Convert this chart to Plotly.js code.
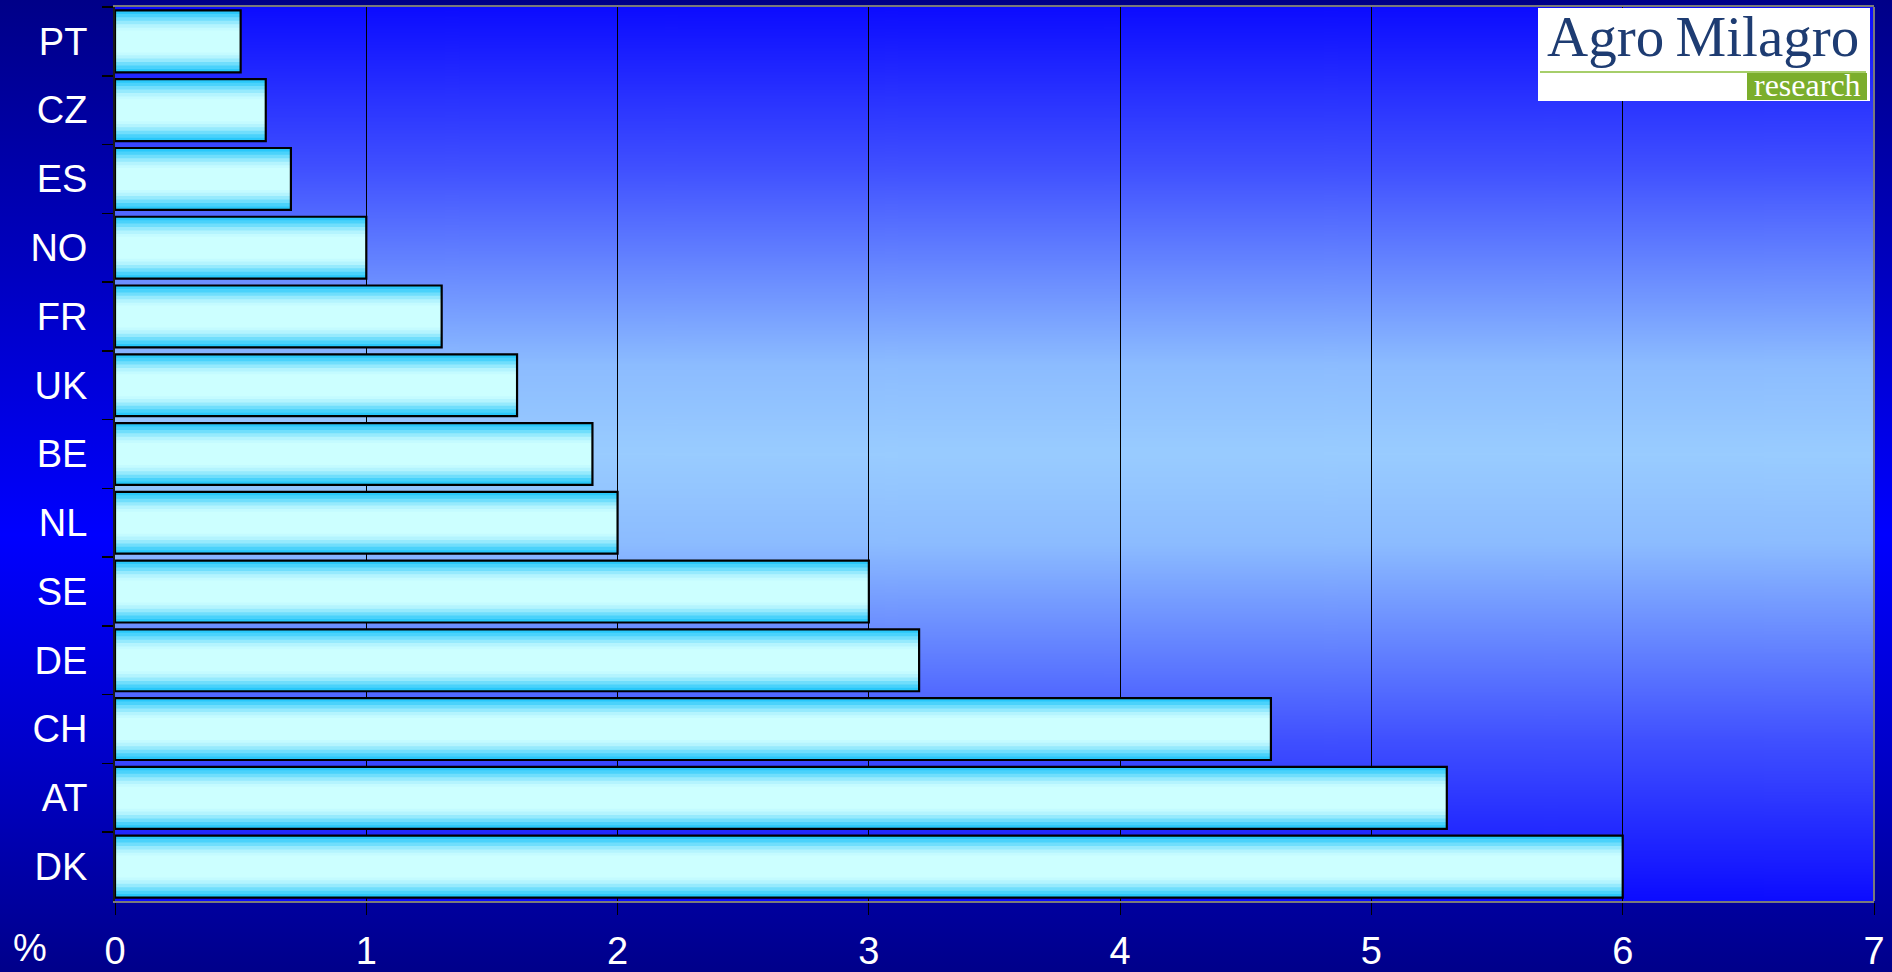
<!DOCTYPE html>
<html>
<head>
<meta charset="utf-8">
<script src="https://cdn.plot.ly/plotly-3.0.1.min.js"></script>
<style>
  html, body { margin: 0; padding: 0; }
  #chart {
    width: 1892px; height: 972px;
    background: linear-gradient(to bottom, #000088 0%, #0000C0 28%, #0000FF 55%, #0000C8 78%, #00008A 100%);
  }
</style>
</head>
<body>
<div id="chart"></div>
<script>
// ---- data ----
const countries = ["PT", "CZ", "ES", "NO", "FR", "UK", "BE", "NL", "SE", "DE", "CH", "AT", "DK"];
const shares = [0.5, 0.6, 0.7, 1.0, 1.3, 1.6, 1.9, 2.0, 3.0, 3.2, 4.6, 5.3, 6.0];
const xTickValues = [0, 1, 2, 3, 4, 5, 6, 7];
const xTickLabels = ["0", "1", "2", "3", "4", "5", "6", "7"];
const unitLabel = "%";
const logoTitle = "Agro\u2009Milagro";
const logoSub = "research";

// ---- style helpers ----
const W = 1892, H = 972;
const M = {l: 115, r: 18, t: 7, b: 71};
const pw = W - M.l - M.r, ph = H - M.t - M.b;
const px = x => (x - M.l) / pw;
const py = y => 1 - (y - M.t) / ph;

function gradientPNG(stops) {
  const c = document.createElement("canvas");
  c.width = 8; c.height = 600;
  const g = c.getContext("2d");
  const lg = g.createLinearGradient(0, 0, 0, 600);
  stops.forEach(s => lg.addColorStop(s[0], s[1]));
  g.fillStyle = lg; g.fillRect(0, 0, 8, 600);
  return c.toDataURL("image/png");
}
const plotBg = gradientPNG([[0, "#0C0CFF"], [0.18, "#4050FF"], [0.4, "#8CBCFF"], [0.5, "#99CCFF"], [0.6, "#8CBCFF"], [0.82, "#4050FF"], [1, "#0C0CFF"]]);

// layered bars to imitate the vertical gradient inside each bar
const layers = [
  {w: 0.90, c: "#2AC8FA"},
  {w: 0.80, c: "#4AD2FB"},
  {w: 0.70, c: "#70DEFC"},
  {w: 0.60, c: "#96EAFD"},
  {w: 0.50, c: "#B4F4FE"},
  {w: 0.40, c: "#C4FBFF"},
  {w: 0.32, c: "#CCFFFF"}
];
const traces = layers.map(L => ({
  type: "bar", orientation: "h",
  x: shares, y: countries,
  width: countries.map(() => L.w),
  marker: {color: L.c, line: {width: 0}},
  hoverinfo: "skip", showlegend: false
}));
traces.push({
  type: "bar", orientation: "h",
  x: shares, y: countries,
  width: countries.map(() => 0.90),
  marker: {color: "rgba(0,0,0,0)", line: {color: "#000000", width: 2.2}},
  hoverinfo: "x+y", showlegend: false
});

const font = {family: "Liberation Sans, Arial, sans-serif", size: 38, color: "#FFFFFF"};

const layout = {
  width: W, height: H,
  margin: M,
  paper_bgcolor: "rgba(0,0,0,0)",
  plot_bgcolor: "rgba(0,0,0,0)",
  barmode: "overlay",
  font: font,
  xaxis: {
    range: [0, 7], tickvals: xTickValues, ticktext: xTickLabels,
    showgrid: true, gridcolor: "#000000", gridwidth: 1,
    zeroline: false,
    showline: true, linecolor: "#7A7A7A", linewidth: 2, mirror: true,
    ticks: "outside", ticklen: 12, tickcolor: "#000000", tickwidth: 1,
    ticklabelstandoff: 3,
    tickfont: font, fixedrange: true
  },
  yaxis: {
    type: "category", categoryorder: "array", categoryarray: countries,
    autorange: "reversed",
    showgrid: false, zeroline: false,
    showline: true, linecolor: "#1A1A1A", linewidth: 2,
    ticks: "outside", ticklen: 11, tickcolor: "#000000", tickwidth: 1.5,
    tickson: "boundaries",
    ticklabelstandoff: 18,
    tickfont: font, fixedrange: true
  },
  images: [{
    source: plotBg, xref: "paper", yref: "paper",
    x: 0, y: 1, sizex: 1, sizey: 1, sizing: "stretch",
    xanchor: "left", yanchor: "top", layer: "below"
  }],
  shapes: [
    {type: "line", xref: "paper", yref: "paper", x0: 1, x1: 1, y0: 0, y1: 1, line: {color: "#7A7A7A", width: 2}},
    {type: "rect", xref: "paper", yref: "paper", x0: px(1538), x1: px(1870), y0: py(101), y1: py(8),
     fillcolor: "#FFFFFF", line: {width: 0}, layer: "above"},
    {type: "line", xref: "paper", yref: "paper", x0: px(1540), x1: px(1866), y0: py(72), y1: py(72),
     line: {color: "#A6CE6A", width: 2}, layer: "above"},
    {type: "rect", xref: "paper", yref: "paper", x0: px(1747), x1: px(1867), y0: py(100), y1: py(73),
     fillcolor: "#7BAE2C", line: {width: 0}, layer: "above"}
  ],
  annotations: [
    {text: unitLabel, xref: "paper", yref: "paper", x: px(30), y: py(948),
     xanchor: "center", yanchor: "middle", showarrow: false, font: font},
    {text: logoTitle, xref: "paper", yref: "paper", x: px(1703), y: py(36),
     xanchor: "center", yanchor: "middle", showarrow: false,
     font: {family: "Liberation Serif, Times New Roman, serif", size: 57, color: "#1E3C72"}},
    {text: logoSub, xref: "paper", yref: "paper", x: px(1807), y: py(85),
     xanchor: "center", yanchor: "middle", showarrow: false,
     font: {family: "Liberation Serif, Times New Roman, serif", size: 32, color: "#FFFFFF"}}
  ]
};

Plotly.newPlot("chart", traces, layout, {displayModeBar: false, staticPlot: true});
</script>
</body>
</html>
